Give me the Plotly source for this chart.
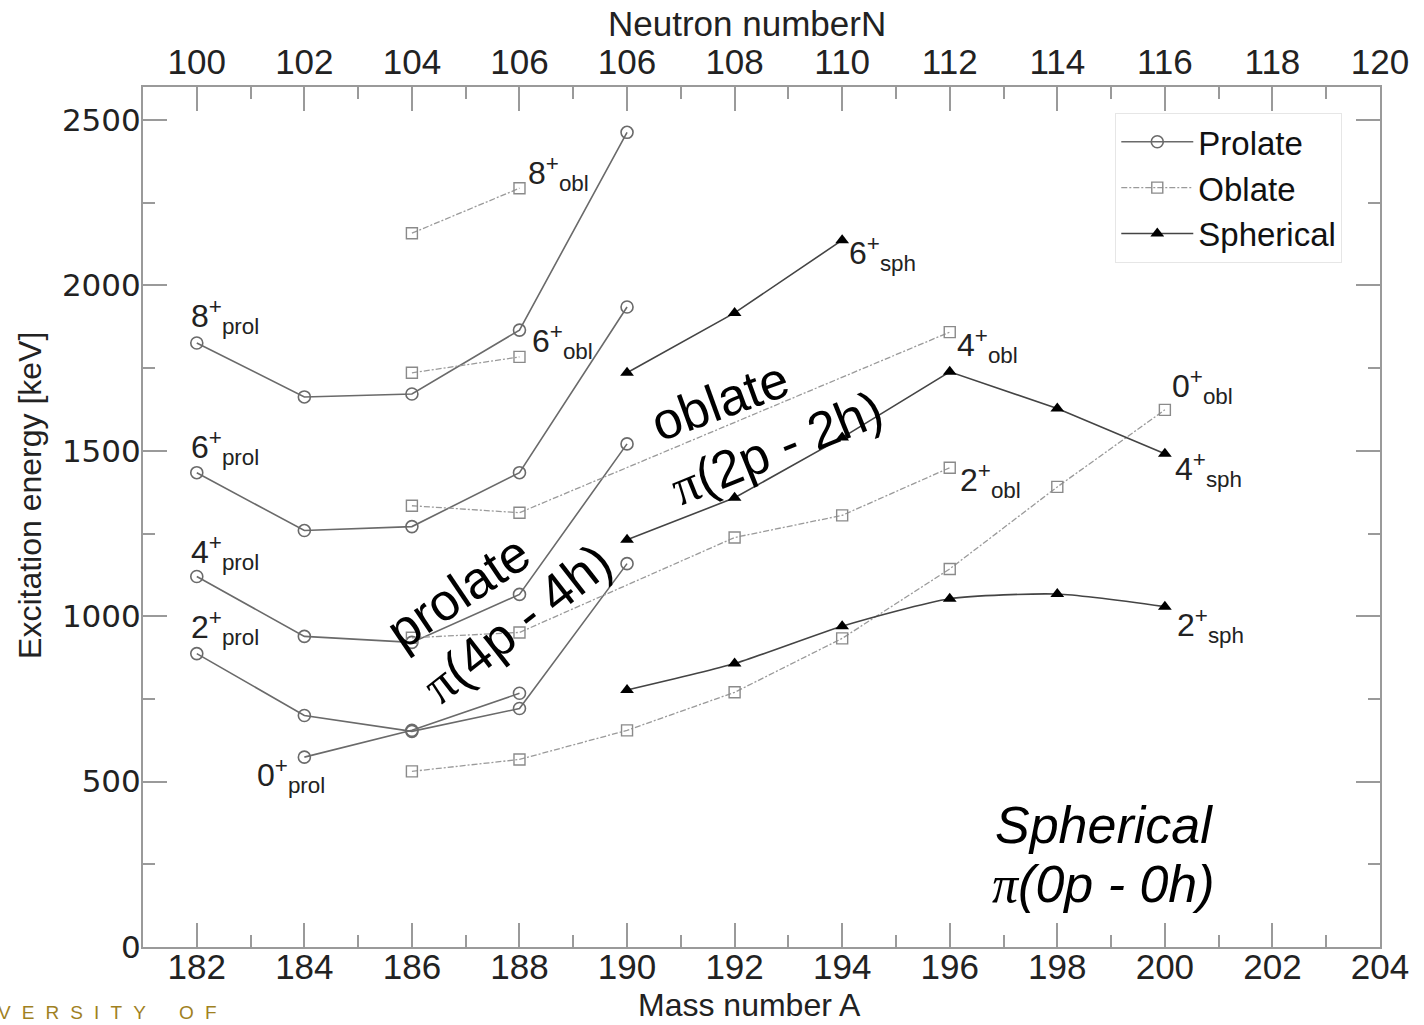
import plotly.graph_objects as go

# Bottom axis: mass number A; top axis: neutron number N (labels as printed)
mass_ticks = list(range(182, 205, 2))
neutron_labels = ["100", "102", "104", "106", "106", "108",
                  "110", "112", "114", "116", "118", "120"]

# Prolate bands (keV)
prol_A = [182, 184, 186, 188, 190]
prol_8 = [1826, 1663, 1672, 1865, 2463]
prol_6 = [1434, 1259, 1271, 1434, 1935]
prol_4 = [1120, 939, 921, 1066, 1521]
prol_2 = [887, 700, 652, 721, 1159]
prol_0_A = [184, 186, 188]
prol_0 = [574, 655, 767]

# Oblate bands (keV)
obl_8_A = [186, 188]
obl_8 = [2158, 2294]
obl_6_A = [186, 188]
obl_6 = [1736, 1784]
obl_4_A = [186, 188, 196]
obl_4 = [1334, 1313, 1859]
obl_2_A = [186, 188, 192, 194, 196]
obl_2 = [935, 951, 1238, 1305, 1449]
obl_0_A = [186, 188, 190, 192, 194, 196, 198, 200]
obl_0 = [531, 567, 655, 770, 933, 1143, 1391, 1624]

# Spherical states (keV)
sph_6_A = [190, 192, 194]
sph_6 = [1736, 1917, 2137]
sph_4_A = [190, 192, 194, 196, 198, 200]
sph_4 = [1231, 1358, 1540, 1739, 1628, 1491]
sph_2_A = [190, 192, 194, 196, 198, 200]
sph_2 = [777, 857, 970, 1053, 1067, 1029]

FONT = "Liberation Sans, Arial, sans-serif"
AXIS_GREY = "#9a9a9a"
X_RANGE = [181, 204]

fig = go.Figure()

prolate_style = dict(
    mode="lines+markers",
    line=dict(color="#6a6a6a", width=1.6),
    marker=dict(symbol="circle-open", size=12, color="#6a6a6a", line=dict(width=1.6)),
    legendgroup="prolate", name="Prolate",
)
oblate_style = dict(
    mode="lines+markers",
    line=dict(color="#9a9a9a", width=1.3, dash="6px,2px,2px,2px"),
    marker=dict(symbol="square-open", size=11, color="#8a8a8a", line=dict(width=1.4)),
    legendgroup="oblate", name="Oblate",
)
spherical_style = dict(
    mode="lines+markers",
    line=dict(color="#444444", width=1.6),
    marker=dict(symbol="triangle-up", size=12, color="#000000"),
    legendgroup="spherical", name="Spherical",
)

prolate_sets = [(prol_A, prol_8), (prol_A, prol_6), (prol_A, prol_4),
                (prol_A, prol_2), (prol_0_A, prol_0)]
oblate_sets = [(obl_8_A, obl_8), (obl_6_A, obl_6), (obl_4_A, obl_4),
               (obl_2_A, obl_2), (obl_0_A, obl_0)]
spherical_sets = [(sph_6_A, sph_6), (sph_4_A, sph_4), (sph_2_A, sph_2)]

for i, (xs, ys) in enumerate(prolate_sets):
    fig.add_trace(go.Scatter(x=xs, y=ys, showlegend=(i == 0), **prolate_style))
for i, (xs, ys) in enumerate(oblate_sets):
    fig.add_trace(go.Scatter(x=xs, y=ys, showlegend=(i == 0), **oblate_style))
# spherical states are drawn against the top (neutron-number) axis, which shares the range
for i, (xs, ys) in enumerate(spherical_sets):
    style = dict(spherical_style)
    if ys is sph_2:
        style["line"] = dict(color="#444444", width=1.6, shape="spline", smoothing=0.6)
    fig.add_trace(go.Scatter(x=xs, y=ys, xaxis="x2", showlegend=(i == 0), **style))

# Level labels  J^+_band
level_labels = [
    (181.86, 1905, "8", "prol"), (181.86, 1509, "6", "prol"),
    (181.86, 1192, "4", "prol"), (181.86, 966, "2", "prol"),
    (183.08, 519, "0", "prol"),
    (188.12, 2339, "8", "obl"), (188.2, 1832, "6", "obl"),
    (194.09, 2098, "6", "sph"), (196.09, 1817, "4", "obl"),
    (200.09, 1696, "0", "obl"), (200.15, 1443, "4", "sph"),
    (196.15, 1410, "2", "obl"), (200.18, 972, "2", "sph"),
]
for x, y, spin, band in level_labels:
    fig.add_annotation(
        x=x, y=y, xref="x", yref="y", xanchor="left", yanchor="middle",
        text=f"{spin}<sup>+</sup><sub>{band}</sub>", showarrow=False,
        font=dict(family=FONT, size=32, color="#222222"),
    )

# Configuration labels
PI = "<span style='font-family:Liberation Serif'>π</span>"
config_labels = [
    (191.72, 1651, "oblate", -20, "normal"),
    (192.77, 1509, f"{PI}(2p - 2h)", -22, "normal"),
    (186.86, 1072, "prolate", -34, "normal"),
    (187.95, 981, f"{PI}(4p - 4h)", -38, "normal"),
    (198.86, 368, "Spherical", 0, "italic"),
    (198.86, 190, f"{PI}(0p - 0h)", 0, "italic"),
]
for x, y, txt, ang, style in config_labels:
    fig.add_annotation(
        x=x, y=y, xref="x", yref="y", xanchor="center", yanchor="middle",
        text=txt, textangle=ang, showarrow=False,
        font=dict(family=FONT, size=52, color="#000000", style=style),
    )

# Y-axis title
fig.add_annotation(
    x=-0.0914, y=0.5256, xref="paper", yref="paper", textangle=-90,
    xanchor="center", yanchor="middle",
    text="Excitation energy [keV]", showarrow=False,
    font=dict(family=FONT, size=32, color="#222222"),
)

# X-axis titles
fig.add_annotation(
    x=0.4907, y=-0.0674, xref="paper", yref="paper", xanchor="center", yanchor="middle",
    text="Mass number A", showarrow=False,
    font=dict(family=FONT, size=32, color="#222222"),
)
fig.add_annotation(
    x=0.4883, y=1.0733, xref="paper", yref="paper", xanchor="center", yanchor="middle",
    text="Neutron numberN", showarrow=False,
    font=dict(family=FONT, size=35, color="#222222"),
)

# Footer text
sp = "\u2002\u200a"
fig.add_annotation(
    x=-0.1188, y=-0.0756, xref="paper", yref="paper", xanchor="left", yanchor="middle",
    text=sp.join("VERSITY") + sp * 3 + sp.join("OF"),
    showarrow=False, font=dict(family=FONT, size=19, color="#a0811f"),
)

tick_common = dict(ticks="inside", tickcolor=AXIS_GREY, tickwidth=2, ticklen=24,
                   showline=True, linecolor=AXIS_GREY, linewidth=2,
                   showgrid=False, zeroline=False, automargin=False)

fig.update_layout(
    width=1424, height=1025,
    margin=dict(l=143, r=44, t=87, b=78),
    plot_bgcolor="white", paper_bgcolor="white",
    xaxis=dict(
        range=X_RANGE, tickmode="linear", tick0=182, dtick=2,
        minor=dict(ticks="inside", ticklen=12, tickcolor=AXIS_GREY, tickwidth=2, dtick=1, tick0=181),
        tickfont=dict(family=FONT, size=35, color="#222222"),
        ticklabelstandoff=-12,
        **tick_common,
    ),
    xaxis2=dict(
        range=X_RANGE, overlaying="x", side="top", anchor="y",
        tickmode="array", tickvals=mass_ticks, ticktext=neutron_labels,
        minor=dict(ticks="inside", ticklen=12, tickcolor=AXIS_GREY, tickwidth=2,
                   tickmode="array", tickvals=list(range(183, 204, 2))),
        tickfont=dict(family=FONT, size=35, color="#222222"),
        ticklabelstandoff=-3,
        **tick_common,
    ),
    yaxis=dict(
        range=[0, 2600], tickmode="linear", tick0=0, dtick=500, mirror="ticks",
        minor=dict(ticks="inside", ticklen=12, tickcolor=AXIS_GREY, tickwidth=2, dtick=250, tick0=0),
        tickfont=dict(family="DejaVu Sans, sans-serif", size=31, color="#222222"),
        ticklabelstandoff=-6,
        **tick_common,
    ),
    legend=dict(
        x=0.786, y=0.97, xanchor="left", yanchor="top",
        bgcolor="white", bordercolor="#e6e6e6", borderwidth=1,
        font=dict(family=FONT, size=33, color="#111111"),
        tracegroupgap=0, itemwidth=72,
    ),
)

fig.write_html("out.html")
